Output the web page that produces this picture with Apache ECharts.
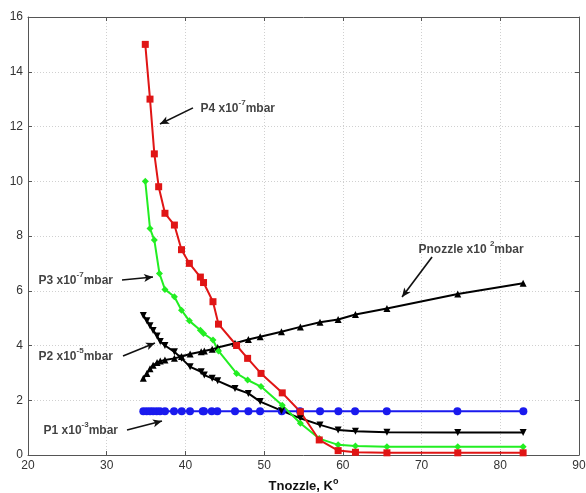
<!DOCTYPE html>
<html>
<head>
<meta charset="utf-8">
<script src="https://cdn.jsdelivr.net/npm/echarts@6/dist/echarts.min.js"></script>
<style>html,body{margin:0;padding:0;background:#fff;}#c{width:586px;height:493px;}</style>
</head>
<body>
<div id="c"></div>
<script>
// Tnozzle values (x) and pressures (y) per series
var p1X = [34.65,35.08,35.5,35.9,36.35,36.77,37.4,38.55,39.53,40.58,42.2,42.36,43.34,44.05,46.3,48.0,49.48,52.24,54.56,57.1,59.43,61.55,65.58,74.55,82.93];
var p1Y = [1.6,1.6,1.6,1.6,1.6,1.6,1.6,1.6,1.6,1.6,1.6,1.6,1.6,1.6,1.6,1.6,1.6,1.6,1.6,1.6,1.6,1.6,1.6,1.6,1.6];

var p2X = [34.65,35.1,35.5,35.9,36.4,36.8,37.4,38.6,39.5,40.6,42.0,42.4,43.4,44.1,46.3,48.0,49.5,52.2,54.6,57.1,59.4,61.6,65.6,74.6,82.9];
var p2Y = [5.1,4.9,4.72,4.55,4.35,4.15,4.0,3.77,3.53,3.22,3.04,2.92,2.8,2.71,2.43,2.25,1.95,1.62,1.34,1.1,0.91,0.87,0.83,0.82,0.82];

var p3X = [34.9,35.5,36.05,36.7,37.4,38.6,39.5,40.5,41.9,42.3,43.5,44.2,46.5,47.9,49.6,52.3,54.6,57.0,59.4,61.6,65.6,74.6,82.9];
var p3Y = [10.0,8.27,7.85,6.63,6.05,5.78,5.29,4.9,4.56,4.44,4.2,3.8,2.98,2.74,2.5,1.82,1.16,0.6,0.37,0.33,0.3,0.3,0.3];

var p4X = [34.9,35.5,36.05,36.6,37.4,38.6,39.5,40.5,41.9,42.3,43.5,44.2,46.5,47.9,49.6,52.3,54.6,57.0,59.4,61.6,65.6,74.6,82.9];
var p4Y = [15.0,13.0,11.0,9.8,8.83,8.4,7.5,7.0,6.5,6.3,5.6,4.78,4.0,3.53,2.98,2.27,1.58,0.55,0.16,0.1,0.08,0.08,0.08];

var pnX = [34.65,35.1,35.5,35.9,36.4,36.8,37.4,38.6,39.5,40.6,42.0,42.4,43.4,44.1,46.3,48.0,49.5,52.2,54.6,57.1,59.4,61.6,65.6,74.6,82.9];
var pnY = [2.8,2.98,3.15,3.28,3.38,3.43,3.47,3.53,3.6,3.69,3.77,3.8,3.86,3.93,4.08,4.22,4.32,4.5,4.68,4.85,4.95,5.13,5.35,5.88,6.27];

var xTicks = [20,30,40,50,60,70,80,90];
var yTicks = [0,2,4,6,8,10,12,14,16];

// annotation labels: text parts, label anchor (x,y), arrow start, arrow end (data units)
var annLabels = [
  {pre:'P4 x10', sup:'-7', post:'mbar', at:[41.85,12.71], from:[40.96,12.68], to:[36.77,12.09]},
  {pre:'P3 x10', sup:'-7', post:'mbar', at:[21.27,6.43], from:[31.94,6.39], to:[35.88,6.50]},
  {pre:'P2 x10', sup:'-5', post:'mbar', at:[21.27,3.65], from:[32.07,3.62], to:[36.13,4.09]},
  {pre:'P1 x10', sup:'-3', post:'mbar', at:[21.91,0.95], from:[32.58,0.91], to:[37.02,1.24]},
  {pre:'Pnozzle x10 ', sup:'2', post:'mbar', at:[69.55,7.56], from:[71.33,7.23], to:[67.52,5.77]}
];

function zip(a,b){ return a.map(function(v,i){ return [v,b[i]]; }); }

var FONT = 'Liberation Sans, Arial, sans-serif';
var rich = {
  b:{fontFamily:FONT, fontWeight:'bold', fontSize:12, color:'#111', lineHeight:16, verticalAlign:'bottom'},
  s:{fontFamily:FONT, fontWeight:'bold', fontSize:8, color:'#111', lineHeight:16, verticalAlign:'top', padding:[0,0,8,0]}
};

function lineSeries(name, data, color, symbol, size, rot){
  return {
    name:name, type:'line', data:data, symbol:symbol, symbolSize:size, showSymbol:true,
    symbolRotate:rot||0,
    lineStyle:{color:color, width:2}, itemStyle:{color:color, borderColor:color, borderWidth:0},
    z:3
  };
}

var chart = echarts.init(document.getElementById('c'), null, {renderer:'canvas'});
chart.setOption({
  animation:false,
  backgroundColor:'#fff',
  grid:{left:28, right:7, top:17, bottom:38, containLabel:false, outerBoundsMode:'none'},
  xAxis:[{
    type:'value', min:20, max:90, interval:10, position:'bottom',
    axisLine:{show:true, onZero:false, lineStyle:{color:'#555'}},
    axisTick:{show:true, inside:true, length:4, lineStyle:{color:'#555'}},
    axisLabel:{color:'#333', fontFamily:FONT, fontSize:12, margin:5,
      formatter:function(v){ return xTicks.indexOf(v)>=0 ? String(v) : ''; }},
    splitLine:{show:true, lineStyle:{color:'#d0d0d0', type:[1,2], width:1}},
    name:'{b|Tnozzle, K}{s|o}', nameLocation:'middle', nameGap:19,
    nameTextStyle:{rich:{
      b:{fontFamily:FONT, fontWeight:'bold', fontSize:13, color:'#111', lineHeight:16, verticalAlign:'bottom'},
      s:{fontFamily:FONT, fontWeight:'bold', fontSize:9, color:'#111', lineHeight:16, verticalAlign:'top', padding:[0,0,8,0]}
    }}
  },{
    type:'value', min:20, max:90, interval:10, position:'top',
    axisLine:{show:true, onZero:false, lineStyle:{color:'#555'}},
    axisTick:{show:true, inside:true, length:4, lineStyle:{color:'#555'}},
    axisLabel:{show:false}, splitLine:{show:false}
  }],
  yAxis:[{
    type:'value', min:0, max:16, interval:2, position:'left',
    axisLine:{show:true, onZero:false, lineStyle:{color:'#555'}},
    axisTick:{show:true, inside:true, length:4, lineStyle:{color:'#555'}},
    axisLabel:{color:'#333', fontFamily:FONT, fontSize:12, margin:5,
      formatter:function(v){ return yTicks.indexOf(v)>=0 ? String(v) : ''; }},
    splitLine:{show:true, lineStyle:{color:'#d0d0d0', type:[1,2], width:1}}
  },{
    type:'value', min:0, max:16, interval:2, position:'right',
    axisLine:{show:true, onZero:false, lineStyle:{color:'#555'}},
    axisTick:{show:true, inside:true, length:4, lineStyle:{color:'#555'}},
    axisLabel:{show:false}, splitLine:{show:false}
  }],
  series:[
    lineSeries('P1', zip(p1X,p1Y), '#1a1aee', 'circle', 8),
    lineSeries('P2', zip(p2X,p2Y), '#000000', 'triangle', 7, 180),
    lineSeries('Pnozzle', zip(pnX,pnY), '#000000', 'triangle', 7),
    lineSeries('P3', zip(p3X,p3Y), '#22ee22', 'diamond', 7),
    lineSeries('P4', zip(p4X,p4Y), '#e01515', 'rect', 7),
    {
      name:'labels', type:'scatter', symbol:'circle', symbolSize:1, z:5,
      itemStyle:{color:'rgba(0,0,0,0)'},
      labelLayout:{hideOverlap:false},
      label:{show:true, position:'right', distance:0,
        formatter:function(p){ var a=annLabels[p.dataIndex]; return '{b|'+a.pre+'}{s|'+a.sup+'}{b|'+a.post+'}'; },
        rich:rich},
      data:annLabels.map(function(a){ return a.at; }),
      markLine:{
        silent:true, symbol:['none','arrow'], symbolSize:[6,9],
        label:{show:false},
        lineStyle:{color:'#111', width:1.6, type:'solid'},
        data:annLabels.map(function(a){ return [{coord:a.from},{coord:a.to}]; })
      }
    }
  ]
});
</script>
</body>
</html>
